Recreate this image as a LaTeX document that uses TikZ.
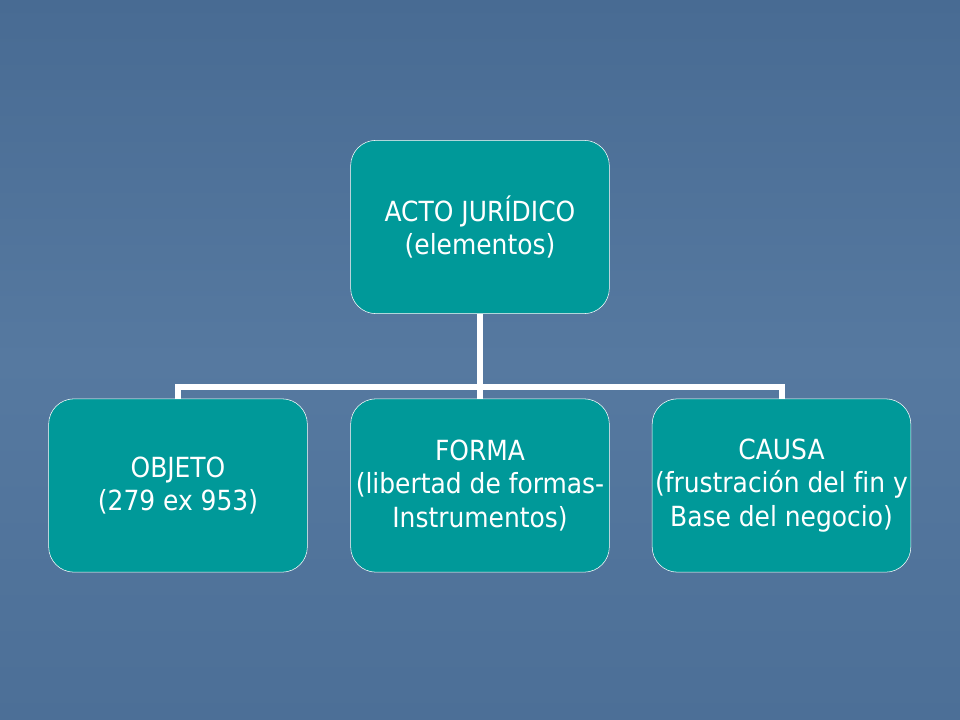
\documentclass[tikz,border=0pt]{standalone}
\usepackage{fontspec}
\setmainfont[Ligatures=NoCommon]{DejaVu Sans Condensed}
\usepackage{tikz}
\usetikzlibrary{positioning}
\usepackage{xcolor}

\definecolor{bgtop}{RGB}{72,107,147}
\definecolor{bgmid}{RGB}{86,121,160}
\definecolor{bgbot}{RGB}{76,111,151}
\definecolor{tealbox}{RGB}{0,153,153}

\tikzset{
  elembox/.style={draw=white, thin, fill=tealbox, rounded corners=19pt,
    minimum width=194pt, minimum height=130pt, align=center, inner xsep=1pt,
    text=white, font=\fontsize{20.8}{25}\selectfont},
  conn/.style={white, line width=4.5pt}
}

\begin{document}
\begin{tikzpicture}[x=0.75pt,y=-0.75pt]

% background
\shade[top color=bgtop, bottom color=bgbot, middle color=bgmid] (0,0) rectangle (960,720);
\useasboundingbox (0,0) rectangle (960,720);

\node[elembox] (acto) at (480,227) {ACTO JURÍDICO\\(elementos)};

\node[elembox] (objeto) at (178,485.5) {OBJETO\\(279 ex 953)};
\node[elembox] (forma) at (480,485.5) {FORMA\\(libertad de formas-\\Instrumentos)};
\node[elembox] (causa) at (781.5,485.5) {CAUSA\\(frustración del fin y\\Base del negocio)};

% connectors
\coordinate (bus) at (480,387);
\draw[conn] (acto.south) -- (forma.north);
\draw[conn] (objeto.north) |- (bus) -| (causa.north);

\end{tikzpicture}
\end{document}
